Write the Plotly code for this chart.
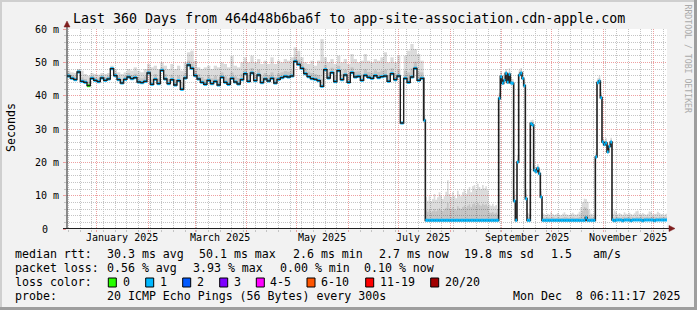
import pandas as pd
import plotly.graph_objects as go

TITLE = "Last 360 Days from 464d48b6ba6f to app-site-association.cdn-apple.com"
AXIS_START = pd.Timestamp("2024-12-14 03:00:00")
AXIS_END = AXIS_START + pd.Timedelta(days=360)

# ---- section A: 2-day bins (days 0..213) ----
median_a = [45.9, 45.2, 44.8, 47.1, 44.3, 44.0, 43.0, 45.2, 44.6, 44.2,
            45.3, 44.6, 45.0, 48.1, 46.0, 44.8, 43.8, 44.9, 45.6, 45.1,
            45.4, 44.1, 43.9, 44.3, 46.8, 43.4, 44.9, 43.6, 47.6, 45.0,
            43.6, 44.8, 43.2, 44.5, 41.9, 45.3, 49.2, 48.2, 46.0, 45.0,
            44.0, 43.4, 44.6, 43.6, 44.3, 43.2, 45.5, 44.0, 43.4, 45.2,
            44.1, 43.5, 44.8, 46.6, 44.3, 46.8, 44.5, 46.2, 43.9, 45.0,
            44.4, 45.2, 43.8, 44.9, 45.4, 45.8, 45.6, 45.9, 50.3, 49.4,
            48.2, 46.6, 45.7, 45.1, 44.9, 44.5, 42.8, 47.8, 45.3, 46.9,
            44.2, 47.5, 44.8, 46.2, 44.0, 46.9, 45.6, 45.8, 44.6, 46.1,
            45.5, 45.2, 46.0, 45.4, 45.7, 45.9, 44.3, 46.6, 44.8, 45.9,
            31.8, 45.2, 44.0, 45.6, 48.2, 44.6, 45.2]
smoke_mid_a = [46.8, 46.2, 45.8, 47.8, 45.5, 45.0, 44.2, 46.0, 45.5, 45.2,
               46.2, 45.6, 46.0, 48.6, 46.9, 45.8, 45.0, 46.0, 46.8, 46.2,
               46.6, 45.5, 45.2, 45.8, 47.8, 45.0, 46.5, 45.2, 48.5, 46.5,
               45.0, 46.3, 45.0, 46.0, 44.0, 46.8, 50.5, 49.6, 47.5, 46.5,
               45.6, 45.0, 46.2, 45.2, 46.0, 45.0, 47.0, 45.8, 45.2, 47.0,
               45.8, 45.3, 46.6, 48.0, 46.2, 48.3, 46.3, 47.8, 45.8, 46.8,
               46.2, 47.0, 45.6, 46.7, 47.0, 47.4, 47.2, 47.6, 51.6, 50.8,
               49.6, 48.2, 47.2, 46.8, 46.5, 46.2, 45.0, 49.2, 46.9, 48.4,
               46.0, 49.0, 46.5, 47.8, 45.8, 48.5, 47.2, 47.3, 46.4, 47.9,
               47.1, 46.9, 47.6, 47.1, 47.5, 47.8, 46.2, 48.2, 46.6, 47.7,
               31.8, 47.5, 47.0, 48.2, 50.2, 47.2, 47.0]
smoke_max_a = [47.5, 47.0, 46.8, 48.0, 47.5, 46.5, 46.0, 46.8, 46.5, 46.3,
               46.8, 46.5, 46.8, 49.0, 48.0, 47.0, 46.5, 47.0, 48.0, 47.5,
               48.5, 47.5, 47.0, 48.0, 49.5, 48.5, 49.0, 48.0, 50.0, 49.0,
               48.0, 49.5, 48.0, 49.0, 47.5, 50.0, 53.0, 53.5, 50.5, 48.5,
               48.0, 48.5, 49.0, 48.0, 49.0, 48.5, 50.0, 49.5, 48.5, 52.0,
               49.0, 48.5, 50.0, 51.5, 50.0, 52.0, 50.0, 51.0, 49.5, 50.5,
               49.5, 51.5, 49.5, 50.5, 50.0, 51.0, 50.5, 51.5, 54.5, 53.5,
               51.5, 50.0, 49.5, 50.5, 49.0, 50.5, 57.0, 51.5, 50.0, 51.0,
               49.5, 52.0, 50.0, 51.0, 49.5, 52.5, 51.0, 50.0, 50.5, 52.5,
               50.5, 50.0, 51.0, 50.5, 51.5, 53.0, 50.0, 51.5, 50.0, 52.0,
               31.8, 52.0, 53.5, 55.5, 54.0, 52.5, 50.5]

# ---- section B: 1-day bins (days 214..359) ----
median_b = [32.6,
            2.6, 2.6, 2.6, 2.6, 2.6, 2.6, 2.6, 2.6, 2.6, 2.6,
            2.6, 2.6, 2.6, 2.6, 2.6, 2.6, 2.6, 2.6, 2.6, 2.6,
            2.6, 2.6, 2.6, 2.6, 2.6, 2.6, 2.6, 2.6, 2.6, 2.6,
            2.6, 2.6, 2.6, 2.6, 2.6, 2.6, 2.6, 2.6, 2.6, 2.6,
            2.6, 2.6, 2.6, 2.6,
            39.2, 45.7, 43.7, 44.6, 46.7, 44.0, 46.4, 43.8, 43.7, 8.4,
            2.6, 20.1, 46.2, 46.8, 45.2, 43.0, 9.1, 2.6, 2.6, 31.6,
            31.2, 17.6, 17.2, 18.2, 16.6, 9.6, 2.6,
            2.6, 2.6, 2.6, 2.6, 2.6, 2.6, 2.6, 2.6, 2.6, 2.6,
            2.6, 2.6, 2.6, 2.6, 2.6, 2.6, 2.6, 2.6, 2.6, 2.6,
            2.6, 2.6, 2.6, 2.6, 2.6,
            3.4,
            2.6, 2.6, 2.6, 2.6, 2.6,
            21.6, 43.9, 44.4, 39.4, 26.1, 25.3, 25.8, 23.1, 24.8, 26.1,
            2.7, 2.5, 2.7, 2.7, 2.7, 2.7, 2.5, 2.7, 2.7, 2.7,
            2.7, 2.5, 2.7, 2.7, 2.7, 2.7, 2.7, 2.7, 2.5, 2.7,
            2.7, 2.7, 2.7, 2.7, 2.7, 2.5, 2.7, 2.7, 2.7, 2.7,
            2.7, 2.7, 2.7]
smoke_mid_b = [33.2,
               5.6, 5.2, 5.8, 5.0, 5.4, 6.0, 5.3, 5.6, 6.2, 5.8,
               5.4, 5.9, 6.4, 7.8, 6.2, 5.8, 6.5, 6.0, 5.6, 6.8,
               6.3, 6.0, 6.6, 7.0, 6.4, 7.0, 7.4, 6.6, 7.4, 7.7,
               7.0, 7.8, 7.3, 7.0, 7.6, 7.2, 7.4, 6.8, 5.0, 4.8,
               5.1, 4.6, 4.9, 4.3,
               40.2, 46.6, 44.8, 45.8, 47.4, 45.3, 47.2, 44.7, 44.4, 10.0,
               3.6, 21.0, 47.2, 47.6, 46.3, 44.0, 10.5, 3.6, 3.5, 32.1,
               32.0, 18.3, 17.9, 18.9, 17.3, 10.5, 3.6,
               3.4, 3.3, 3.5, 3.4, 3.3, 3.6, 3.4, 3.3, 3.5, 3.4,
               3.3, 3.4, 3.6, 3.5, 3.4, 3.3, 3.4, 3.5, 3.4, 3.3,
               3.4, 3.6, 4.5, 5.5, 6.6,
               6.4,
               5.6, 4.0, 3.5, 3.4, 3.3,
               22.4, 44.7, 45.3, 40.2, 26.9, 26.0, 26.5, 24.0, 25.5, 26.8,
               3.6, 3.5, 3.8, 3.6, 3.5, 3.4, 3.6, 3.7, 3.5, 3.6,
               3.8, 3.5, 3.6, 3.4, 3.7, 3.6, 3.5, 3.8, 3.6, 3.5,
               3.6, 3.7, 3.5, 3.6, 3.8, 3.5, 3.6, 3.4, 3.7, 3.6,
               3.5, 3.6, 3.5]
smoke_max_b = [33.8,
               9.6, 8.5, 9.8, 8.3, 9.0, 10.5, 8.8, 9.5, 11.0, 10.2,
               9.0, 9.8, 11.2, 14.6, 10.5, 9.6, 11.0, 10.0, 9.2, 11.5,
               10.4, 9.8, 11.0, 12.0, 10.6, 11.8, 12.6, 11.0, 12.8, 13.2,
               11.8, 13.6, 12.6, 12.0, 13.2, 12.2, 12.8, 11.6, 7.4, 7.0,
               7.6, 6.8, 7.2, 6.0,
               40.8, 47.2, 46.0, 46.8, 48.0, 46.2, 48.2, 45.6, 45.0, 11.5,
               4.5, 22.0, 47.8, 48.3, 47.4, 45.0, 12.0, 4.8, 4.4, 32.6,
               32.8, 19.0, 18.5, 19.5, 18.0, 11.5, 4.8,
               4.4, 4.2, 4.6, 4.3, 5.0, 4.5, 4.2, 4.4, 4.8, 4.3,
               4.1, 4.6, 5.0, 4.4, 4.3, 4.2, 4.6, 4.9, 4.4, 4.3,
               4.6, 5.2, 6.5, 8.0, 9.1,
               9.0,
               8.2, 5.8, 4.6, 4.4, 4.3,
               23.0, 45.2, 46.0, 41.0, 27.5, 26.6, 27.2, 24.8, 26.0, 27.4,
               4.6, 5.6, 5.2, 4.4, 4.8, 4.5, 4.3, 5.0, 4.6, 4.4,
               4.9, 4.5, 4.3, 4.7, 5.3, 5.5, 4.6, 4.4, 4.8, 4.5,
               4.3, 4.6, 5.3, 5.0, 4.4, 4.5, 4.6, 5.2, 4.8, 4.4,
               4.5, 4.3, 4.6]
green_bins = [6]   # bins with 0 loss (green)

ytick_vals = [0, 10, 20, 30, 40, 50, 60]
ytick_text = ["0", "10 m", "20 m", "30 m", "40 m", "50 m", "60 m"]
xlabel_dates = ["2025-01-16", "2025-03-16", "2025-05-16", "2025-07-16", "2025-09-16", "2025-11-16"]
xlabel_text = ["January 2025", "March 2025", "May 2025", "July 2025", "September 2025", "November 2025"]

loss_labels = ["0", "1", "2", "3", "4-5", "6-10", "11-19", "20/20"]
loss_colors = ["#26ff00", "#00b8ff", "#0059ff", "#7e00ff", "#ff00ff", "#ff5500", "#ff0000", "#a10000"]

# ---- build bins ----
NA = len(median_a)
day_starts = [2 * i for i in range(NA)] + [214 + i for i in range(len(median_b))]
day_widths = [2] * NA + [1] * len(median_b)
median = median_a + median_b
smid = smoke_mid_a + smoke_mid_b
smax = smoke_max_a + smoke_max_b
t0 = [AXIS_START + pd.Timedelta(days=d) for d in day_starts]
t1 = [AXIS_START + pd.Timedelta(days=d + w) for d, w in zip(day_starts, day_widths)]
wms = [w * 86400000 for w in day_widths]

# pixel helpers for decorations
PL, PT, PW, PH = 67, 29, 600, 200
def px(x): return (x - PL) / PW
def py(y): return (PT + PH - y) / PH

FONT = "DejaVu Sans Mono"
fig = go.Figure()

fig.add_trace(go.Bar(x=t0, y=[a - m for a, m in zip(smax, median)], base=median, width=wms, offset=0,
                     marker=dict(color="rgba(0,0,0,0.14)", line=dict(width=0)), hoverinfo="skip"))
fig.add_trace(go.Bar(x=t0, y=[a - m for a, m in zip(smid, median)], base=median, width=wms, offset=0,
                     marker=dict(color="rgba(0,0,0,0.10)", line=dict(width=0)), hoverinfo="skip"))

def segs(idx):
    xs, ys = [], []
    for i in idx:
        xs += [t0[i], t1[i], None]
        ys += [median[i], median[i], None]
    return xs, ys

MEDC = "#202020"
# section B: median line below the loss-coloured band
fig.add_trace(go.Scatter(x=t0[NA - 1:] + [AXIS_END], y=median[NA - 1:] + [median[-1]], mode="lines",
                         line=dict(color=MEDC, width=1.6, shape="hv"), hoverinfo="skip"))
bx, by = segs([i for i in range(len(median)) if i not in green_bins])
fig.add_trace(go.Scatter(x=bx, y=by, mode="lines", line=dict(color=loss_colors[1], width=3), hoverinfo="skip"))
gx, gy = segs(green_bins)
fig.add_trace(go.Scatter(x=gx, y=gy, mode="lines", line=dict(color=loss_colors[0], width=3), hoverinfo="skip"))
# section A: dense jitter -> median line dominates
fig.add_trace(go.Scatter(x=t0[:NA + 1], y=median[:NA + 1], mode="lines",
                         line=dict(color=MEDC, width=1.4, shape="hv"), hoverinfo="skip"))

GRID = "#c4c4c4"
MGRID = "#eda0a0"
fig.update_layout(
    width=697, height=310, margin=dict(l=PL, r=697 - PL - PW, t=PT, b=310 - PT - PH),
    paper_bgcolor="#f2f2f2", plot_bgcolor="#ffffff", showlegend=False, barmode="overlay",
    xaxis=dict(type="date", range=[AXIS_START, AXIS_END], showticklabels=False, showline=False, zeroline=False,
               dtick="M1", tick0="2025-01-01", showgrid=True, gridcolor=MGRID, gridwidth=1, griddash="1px,1px",
               ticks="outside", ticklen=2, tickcolor=MGRID,
               minor=dict(dtick=7 * 86400000, tick0="2024-12-15", showgrid=True, gridcolor=GRID,
                          griddash="1px,1px", ticks="outside", ticklen=2, tickcolor=GRID)),
    yaxis=dict(range=[0, 60], showticklabels=False, showline=False, zeroline=False,
               dtick=10, tick0=0, showgrid=True, gridcolor=MGRID, gridwidth=1, griddash="1px,1px",
               ticks="outside", ticklen=3, tickcolor=MGRID,
               minor=dict(dtick=2, showgrid=True, gridcolor=GRID, griddash="1px,1px",
                          ticks="outside", ticklen=2, tickcolor=GRID)),
)

shapes = []
# frame shading
shapes.append(dict(type="rect", xref="paper", yref="paper", x0=px(0), x1=px(2), y0=py(0), y1=py(310),
                   fillcolor="#cfcfcf", line=dict(width=0), layer="above"))
shapes.append(dict(type="rect", xref="paper", yref="paper", x0=px(0), x1=px(697), y0=py(0), y1=py(2),
                   fillcolor="#cfcfcf", line=dict(width=0), layer="above"))
shapes.append(dict(type="rect", xref="paper", yref="paper", x0=px(694), x1=px(697), y0=py(0), y1=py(310),
                   fillcolor="#9e9e9e", line=dict(width=0), layer="above"))
shapes.append(dict(type="rect", xref="paper", yref="paper", x0=px(0), x1=px(697), y0=py(307), y1=py(310),
                   fillcolor="#9e9e9e", line=dict(width=0), layer="above"))
# axes
AX = "#1f1f1f"
AR = "#7f1f1f"
shapes.append(dict(type="line", xref="paper", yref="paper", x0=px(67), x1=px(67), y0=py(229), y1=py(24),
                   line=dict(color=AX, width=1)))
shapes.append(dict(type="line", xref="paper", yref="paper", x0=px(63), x1=px(671), y0=py(228.5), y1=py(228.5),
                   line=dict(color=AX, width=1)))
shapes.append(dict(type="path", xref="paper", yref="paper",
                   path=f"M {px(67)},{py(21)} L {px(64)},{py(27)} L {px(70)},{py(27)} Z",
                   fillcolor=AR, line=dict(color=AR, width=0.5)))
shapes.append(dict(type="path", xref="paper", yref="paper",
                   path=f"M {px(675)},{py(228.5)} L {px(669)},{py(225.5)} L {px(669)},{py(231.5)} Z",
                   fillcolor=AR, line=dict(color=AR, width=0.5)))

ann = []
def txt(s, x, y, size, anchor="left", color="#000000", angle=0, yanchor="middle"):
    return dict(text=s.replace(" ", "\u00a0"), xref="paper", yref="paper", x=px(x), y=py(y),
                xanchor=anchor, yanchor=yanchor, showarrow=False, borderpad=0, borderwidth=0,
                textangle=angle, font=dict(family=FONT, size=size, color=color))

ann.append(txt(TITLE, 348.5, 19, 13.3, anchor="center"))
ann.append(txt("Seconds", 10.5, 127.5, 11.6, anchor="center", angle=-90))
ann.append(txt("RRDTOOL / TOBI OETIKER", 687.5, 59, 8.2, anchor="center", angle=90, color="#aaaaaa"))

for v, s in zip(ytick_vals, ytick_text):
    a = txt(s, 35.4 if s != "0" else 41.6, 0, 10)
    a["yref"] = "y"
    a["y"] = v
    ann.append(a)
for d, s in zip(xlabel_dates, xlabel_text):
    a = txt(s, 0, 237.7, 10, anchor="center")
    a["xref"] = "x"
    a["x"] = d
    ann.append(a)

LS = 11.6
rows = [
    (254.3, [("median rtt:", 16), ("30.3 ms avg", 107.3), ("50.1 ms max", 200), ("2.6 ms min", 293.3),
             ("2.7 ms now", 379.3), ("19.8 ms sd", 465), ("1.5", 551.7), ("am/s", 593.3)]),
    (268.3, [("packet loss:", 16), ("0.56 % avg", 107.3), ("3.93 % max", 193.3), ("0.00 % min", 281),
             ("0.10 % now", 365)]),
    (282.3, [("loss color:", 16)]),
    (296.0, [("probe:", 16), ("20 ICMP Echo Pings (56 Bytes) every 300s", 107.3),
             ("Mon Dec  8 06:11:17 2025", 513.3)]),
]
for y, items in rows:
    for s, x in items:
        ann.append(txt(s, x - 0.6, y, LS))

box_x = [108.3, 145.7, 182.7, 219.7, 256.3, 307.0, 365.7, 430.7]
lab_x = [123.3, 161.0, 197.3, 234.3, 271.0, 321.7, 381.0, 446.0]
for bxp, lxp, lab, col in zip(box_x, lab_x, loss_labels, loss_colors):
    shapes.append(dict(type="rect", xref="paper", yref="paper", x0=px(bxp), x1=px(bxp + 8), y0=py(278), y1=py(287),
                       fillcolor=col, line=dict(color="#000000", width=1), layer="above"))
    ann.append(txt(lab, lxp - 0.6, 282.3, LS))

fig.update_layout(shapes=shapes, annotations=ann)
fig.write_html("out.html")
